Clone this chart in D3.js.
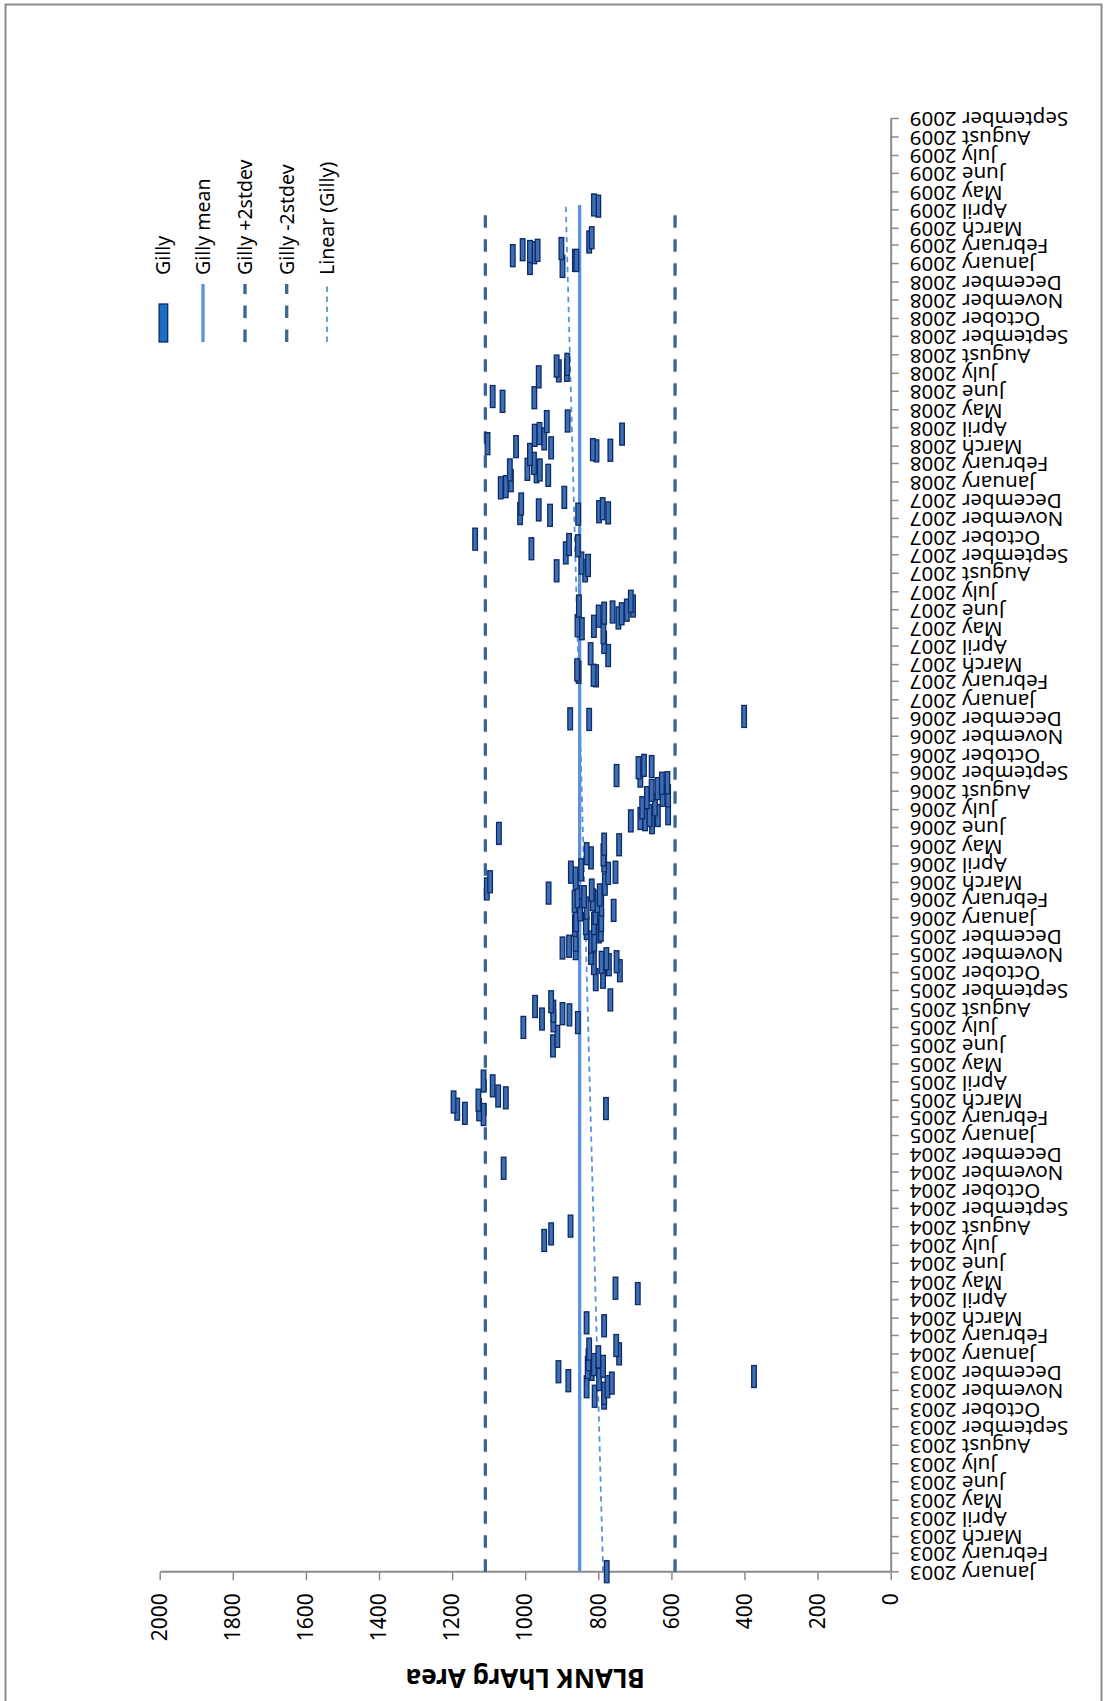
<!DOCTYPE html>
<html>
<head>
<meta charset="utf-8">
<title>BLANK LhArg Area</title>
<script src="https://d3js.org/d3.v7.min.js"></script>
<style>
  body { margin: 0; background: #fff; }
  svg { display: block; }
</style>
</head>
<body>
<div id="chart"></div>
<script>
// Gilly readings (date, area)
const gillyDates = [
  "2003-01-02",
  "2003-10-20", "2003-10-23", "2003-10-28", "2003-11-08", "2003-11-08", "2003-11-14", "2003-11-18", "2003-11-20", "2003-11-25",
  "2003-12-03", "2003-12-07", "2003-12-10", "2003-12-12", "2003-12-15", "2003-12-23", "2003-12-28",
  "2004-01-02", "2004-01-10", "2004-01-16", "2004-02-18", "2004-02-23", "2004-04-12", "2004-04-21",
  "2004-07-10", "2004-07-21", "2004-08-03", "2004-11-08",
  "2005-02-06", "2005-02-08", "2005-02-14", "2005-02-15", "2005-02-16", "2005-02-27", "2005-03-02", "2005-03-06", "2005-03-09", "2005-03-26", "2005-04-03",
  "2005-06-01", "2005-06-17", "2005-07-02", "2005-07-10", "2005-07-13", "2005-07-16", "2005-07-23", "2005-07-25", "2005-07-29", "2005-08-06", "2005-08-14", "2005-08-17",
  "2005-09-20", "2005-09-24", "2005-10-05", "2005-10-15", "2005-10-17", "2005-10-19", "2005-10-20", "2005-10-25",
  "2005-11-03", "2005-11-11", "2005-11-12", "2005-11-15", "2005-11-22", "2005-11-25", "2005-11-25",
  "2005-12-09", "2005-12-12", "2005-12-15", "2005-12-20", "2005-12-23", "2005-12-23", "2005-12-28", "2005-12-28",
  "2006-01-09", "2006-01-14", "2006-01-15", "2006-01-18", "2006-01-23", "2006-01-29", "2006-01-29",
  "2006-02-01", "2006-02-06", "2006-02-06", "2006-02-09", "2006-02-12", "2006-02-17", "2006-02-19", "2006-02-27",
  "2006-03-03", "2006-03-09", "2006-03-17", "2006-03-19", "2006-03-19", "2006-03-23",
  "2006-04-07", "2006-04-12", "2006-04-17", "2006-04-19", "2006-05-04", "2006-05-05", "2006-05-23",
  "2006-06-10", "2006-06-13", "2006-06-15", "2006-06-17", "2006-06-22", "2006-06-22", "2006-06-25",
  "2006-07-05", "2006-07-10", "2006-07-22", "2006-07-25", "2006-07-26",
  "2006-08-03", "2006-08-06", "2006-08-15", "2006-08-16", "2006-08-27", "2006-08-28",
  "2006-09-10", "2006-09-12", "2006-09-14", "2006-11-30", "2006-12-01", "2006-12-05",
  "2007-02-11", "2007-02-12", "2007-02-17", "2007-02-21", "2007-03-17", "2007-03-20", "2007-04-08", "2007-04-24",
  "2007-05-01", "2007-05-05", "2007-05-06", "2007-05-19", "2007-05-22", "2007-05-26", "2007-05-27", "2007-05-29",
  "2007-06-01", "2007-06-08", "2007-06-08", "2007-06-16",
  "2007-08-06", "2007-08-06", "2007-08-15", "2007-08-19", "2007-09-05", "2007-09-12", "2007-09-17", "2007-09-19", "2007-09-28",
  "2007-11-07", "2007-11-09", "2007-11-10", "2007-11-11", "2007-11-13", "2007-11-16", "2007-11-18", "2007-11-26",
  "2007-12-07", "2007-12-23", "2007-12-25",
  "2008-01-04", "2008-01-13", "2008-01-19", "2008-01-22", "2008-01-22", "2008-01-23",
  "2008-02-02", "2008-02-17", "2008-02-23", "2008-02-24", "2008-02-25", "2008-02-28",
  "2008-03-01", "2008-03-06", "2008-03-14", "2008-03-20", "2008-03-22", "2008-03-23", "2008-04-12", "2008-04-13",
  "2008-05-16", "2008-05-22", "2008-05-24", "2008-06-26", "2008-07-06", "2008-07-07", "2008-07-14", "2008-07-17",
  "2008-12-28", "2009-01-02", "2009-01-07", "2009-01-07", "2009-01-15", "2009-01-20", "2009-01-22", "2009-01-24", "2009-01-25", "2009-01-27",
  "2009-02-07", "2009-02-14", "2009-04-08", "2009-04-10"
];
const gillyValues = [
  777,
  784, 810, 784, 832, 775, 763, 882, 798, 374,
  909, 818, 829, 787, 812, 827, 800,
  743, 825, 751, 784, 832, 692, 753,
  948, 929, 876, 1059,
  1114, 1165, 1126, 1186, 779, 1196, 1128, 1053, 1074, 1089, 1114,
  924, 912, 1005, 856, 923, 954, 879, 898, 923, 973, 929, 767,
  807, 787, 741, 771, 812, 791, 750, 778,
  820, 862, 898, 880, 820, 862, 811,
  798, 793, 832, 864, 834, 812, 861, 792,
  808, 758, 850, 832, 792, 865, 803,
  815, 857, 839, 796, 936, 818, 1105, 782,
  1096, 862, 773, 875, 753, 847,
  784, 820, 786, 832, 743, 784, 1072,
  653, 711, 672, 685, 660, 637, 609,
  680, 645, 667, 609, 624,
  654, 638, 626, 611, 685, 750,
  690, 654, 675, 825, 877, 401,
  806, 813, 854, 858, 773, 821, 784, 786,
  845, 812, 857, 745, 799, 736, 784, 761,
  722, 705, 853, 711,
  914, 836, 828, 846, 889, 983, 856, 880, 1137,
  932, 855, 1014, 773, 798, 963, 788, 1011,
  893, 1067, 1053,
  1039, 937, 969, 1042, 960, 994,
  976, 987, 805, 767, 815, 929,
  1025, 1103, 948, 974, 735, 961, 941, 884,
  1062, 975, 1089, 963, 908, 886, 914, 885,
  898, 987, 864, 860, 1034, 975, 987, 966, 1007, 901,
  825, 818, 800, 812
];

const gillyMean = 851;
const gillyPlus2sd = 1109;
const gillyMinus2sd = 590;
const trendEnds = [787, 889];          // Linear (Gilly) at first and last reading
const axisStart = "2003-01-01";
const axisEnd = "2009-09-01";
const valueTicks = [0, 200, 400, 600, 800, 1000, 1200, 1400, 1600, 1800, 2000];
const legendLabels = ["Gilly", "Gilly mean", "Gilly +2stdev", "Gilly -2stdev", "Linear (Gilly)"];
const axisTitle = "BLANK LhArg Area";

const W = 1104, H = 1701;
const FONT = "'Noto Sans', sans-serif";
const markFill = "#3d6db3", markStroke = "#0c2a66";
const meanColor = "#5b92dc", sdColor = "#3a6597";

const svg = d3.select("#chart").append("svg")
  .attr("width", W)
  .attr("height", H);

// outer chart border
svg.append("rect")
  .attr("x", 5.5).attr("y", 4.5)
  .attr("width", 1096).attr("height", 1720)
  .attr("fill", "none")
  .attr("stroke", "#8c8c8c")
  .attr("stroke-width", 2);

// whole chart is drawn landscape and turned a quarter to the left
const g = svg.append("g")
  .attr("transform", `translate(0,${H}) rotate(-90)`);

const parse = d3.timeParse("%Y-%m-%d");
const data = gillyDates.map((d, i) => ({date: parse(d), value: gillyValues[i]}));

const plot = {left: 128.7, right: 1582, top: 159.7, bottom: 890.7};

const x = d3.scaleTime()
  .domain([parse(axisStart), parse(axisEnd)])
  .range([plot.left, plot.right]);

const y = d3.scaleLinear()
  .domain([0, 2000])
  .range([plot.bottom, plot.top]);

// month axis
const xAxis = g.append("g")
  .attr("transform", `translate(0,${plot.bottom})`)
  .call(d3.axisBottom(x)
    .ticks(d3.timeMonth.every(1))
    .tickFormat(d3.timeFormat("%B %Y"))
    .tickSize(8)
    .tickSizeOuter(0));
xAxis.select(".domain").attr("stroke", "#8a8a8a").attr("stroke-width", 2);
xAxis.selectAll(".tick line").attr("stroke", "#8a8a8a").attr("stroke-width", 1.5);
xAxis.selectAll(".tick text")
  .attr("transform", "rotate(-90)")
  .attr("text-anchor", "end")
  .attr("x", -19)
  .attr("y", 0)
  .attr("dy", "0.3em")
  .attr("fill", "#000")
  .style("font-family", FONT)
  .style("font-size", "20.5px");

// value axis
const yAxis = g.append("g")
  .attr("transform", `translate(${plot.left},0)`)
  .call(d3.axisLeft(y)
    .tickValues(valueTicks)
    .tickFormat(d3.format("d"))
    .tickSize(8)
    .tickSizeOuter(0)
    .tickPadding(13));
yAxis.select(".domain").attr("stroke", "#8a8a8a").attr("stroke-width", 2);
yAxis.selectAll(".tick line").attr("stroke", "#8a8a8a").attr("stroke-width", 1.5);
yAxis.selectAll(".tick text")
  .attr("fill", "#000")
  .style("font-family", FONT)
  .style("font-size", "21px");

// axis title
g.append("text")
  .attr("transform", `translate(32,${(plot.top + plot.bottom) / 2}) rotate(-90)`)
  .attr("text-anchor", "middle")
  .style("font-family", FONT)
  .style("font-size", "26px")
  .style("font-weight", "bold")
  .text(axisTitle);

// reference lines
const span = d3.extent(data, d => d.date);
const line = d3.line().x(d => x(d[0])).y(d => y(d[1]));
const refs = [
  {vals: [gillyPlus2sd, gillyPlus2sd], color: sdColor, width: 3.3, dash: "12.5,11.5"},
  {vals: [gillyMinus2sd, gillyMinus2sd], color: sdColor, width: 3.3, dash: "12.5,11.5"},
  {vals: [gillyMean, gillyMean], color: meanColor, width: 3.3, dash: null},
  {vals: trendEnds, color: meanColor, width: 1.8, dash: "5.5,4.5"}
];
g.selectAll("path.ref")
  .data(refs)
  .join("path")
  .attr("class", "ref")
  .attr("d", r => line([[span[0], r.vals[0]], [span[1], r.vals[1]]]))
  .attr("fill", "none")
  .attr("stroke", r => r.color)
  .attr("stroke-width", r => r.width)
  .attr("stroke-dasharray", r => r.dash);

// Gilly markers (dash shape)
const mw = 22, mh = 4.6;
g.selectAll("rect.gilly")
  .data(data)
  .join("rect")
  .attr("class", "gilly")
  .attr("x", d => x(d.date) - mw / 2)
  .attr("y", d => y(d.value) - mh / 2)
  .attr("width", mw)
  .attr("height", mh)
  .attr("fill", markFill)
  .attr("stroke", markStroke)
  .attr("stroke-width", 1.3);

// legend
const legendY = [163.4, 203, 245, 286.7, 327];
const lx0 = 1359, lx1 = 1417, ltx = 1426;
const legend = g.selectAll("g.legend")
  .data(legendLabels)
  .join("g")
  .attr("class", "legend")
  .attr("transform", (d, i) => `translate(0,${legendY[i]})`);

legend.each(function(d, i) {
  const item = d3.select(this);
  if (i === 0) {
    item.append("rect")
      .attr("x", lx0).attr("y", -4.3)
      .attr("width", 38).attr("height", 8.6)
      .attr("fill", "#1b6ec3")
      .attr("stroke", markStroke)
      .attr("stroke-width", 1.3);
  } else {
    const r = refs[[null, 2, 0, 1, 3][i]];
    item.append("line")
      .attr("x1", lx0).attr("x2", lx1)
      .attr("stroke", r.color)
      .attr("stroke-width", r.width)
      .attr("stroke-dasharray", r.dash);
  }
  item.append("text")
    .attr("x", ltx)
    .attr("dy", "0.35em")
    .style("font-family", FONT)
    .style("font-size", "19.5px")
    .text(d);
});
</script>
</body>
</html>
